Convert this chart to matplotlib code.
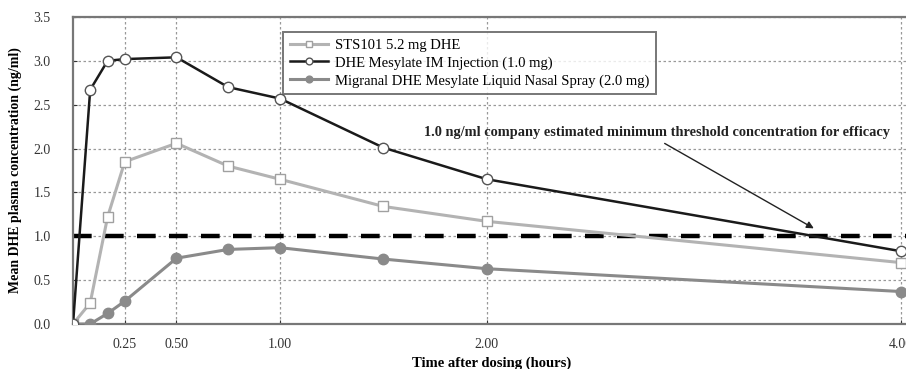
import matplotlib.pyplot as plt
import numpy as np

# time points (hours)
times = [0, 0.083, 0.167, 0.25, 0.5, 0.75, 1.0, 1.5, 2.0, 4.0]

# mean DHE plasma concentration (ng/ml)
sts101 = [0.0, 0.24, 1.22, 1.85, 2.06, 1.80, 1.65, 1.34, 1.17, 0.70]
im_injection = [0.0, 2.67, 3.00, 3.02, 3.04, 2.70, 2.57, 2.01, 1.65, 0.83]
migranal = [0.0, 0.0, 0.12, 0.26, 0.75, 0.85, 0.87, 0.74, 0.63, 0.37]

threshold = 1.0

x_ticks = [0.25, 0.5, 1.0, 2.0, 4.0]
x_labels = ['0.25', '0.50', '1.00', '2.00', '4.00']
y_ticks = np.arange(0, 3.51, 0.5)

plt.rcParams['font.family'] = ['Liberation Serif', 'DejaVu Serif']

fig = plt.figure(figsize=(9.06, 3.69), dpi=100)
ax = fig.add_axes([0.0806, 0.122, 0.925, 0.832])

# grid
for yv in y_ticks:
    ax.axhline(yv, color='#999999', lw=0.9, ls=(0, (2, 2)), zorder=0)
for xv in x_ticks:
    ax.axvline(xv, color='#999999', lw=0.9, ls=(0, (2, 2)), zorder=0)

# threshold line
ax.axhline(threshold, color='black', lw=3.2, ls=(0, (4.2, 3.0)), zorder=2)

ax.plot(times, migranal, color='#8a8a8a', lw=2.2, marker='o', ms=7.5,
        mfc='#8a8a8a', mec='#8a8a8a', zorder=3,
        label='Migranal DHE Mesylate Liquid Nasal Spray (2.0 mg)')
ax.plot(times, sts101, color='#b3b3b3', lw=2.2, marker='s', ms=7.5,
        mfc='white', mec='#a0a0a0', mew=1.0, zorder=4,
        label='STS101 5.2 mg DHE')
ax.plot(times, im_injection, color='#1a1a1a', lw=1.8, marker='o', ms=7.5,
        mfc='white', mec='#555555', mew=1.0, zorder=5,
        label='DHE Mesylate IM Injection (1.0 mg)')

ax.set_xlim(0, 4.05)
ax.set_ylim(0, 3.5)
ax.set_xticks(x_ticks)
ax.set_xticklabels(x_labels)
ax.set_yticks(y_ticks)
ax.set_yticklabels([f'{v:.1f}' for v in y_ticks])
ax.tick_params(direction='in', length=3, labelsize=10, colors='#333333')
ax.tick_params(axis='y', pad=16)
ax.tick_params(axis='x', pad=10)

for side in ['left', 'bottom', 'top']:
    ax.spines[side].set_color('#777777')
    ax.spines[side].set_linewidth(1.6)
ax.spines['right'].set_visible(False)

ax.set_xlabel('Time after dosing (hours)', fontsize=10.5, fontweight='bold',
              labelpad=4)
ax.set_ylabel('Mean DHE plasma concentration (ng/ml)', fontsize=10,
              fontweight='bold', labelpad=8)

handles, labels = ax.get_legend_handles_labels()
order = [1, 2, 0]
leg = ax.legend([handles[i] for i in order], [labels[i] for i in order],
                loc='upper left', bbox_to_anchor=(0.2506, 0.951),
                fontsize=10.5, frameon=True, fancybox=False,
                edgecolor='#555555', borderpad=0.45, labelspacing=0.3,
                handlelength=2.6, handletextpad=0.5, borderaxespad=0,
                markerscale=0.65)
leg.get_frame().set_linewidth(1.4)

ax.annotate('1.0 ng/ml company estimated minimum threshold concentration for efficacy',
            xy=(3.58, 1.09), xytext=(3.95, 2.18), ha='right', va='center',
            fontsize=10.4, fontweight='bold', color='#222222',
            arrowprops=dict(arrowstyle='-|>', color='#222222', lw=1.0,
                            shrinkA=2, shrinkB=0,
                            relpos=(0.5, 0.0)))

fig.savefig('out.png', dpi=100)
